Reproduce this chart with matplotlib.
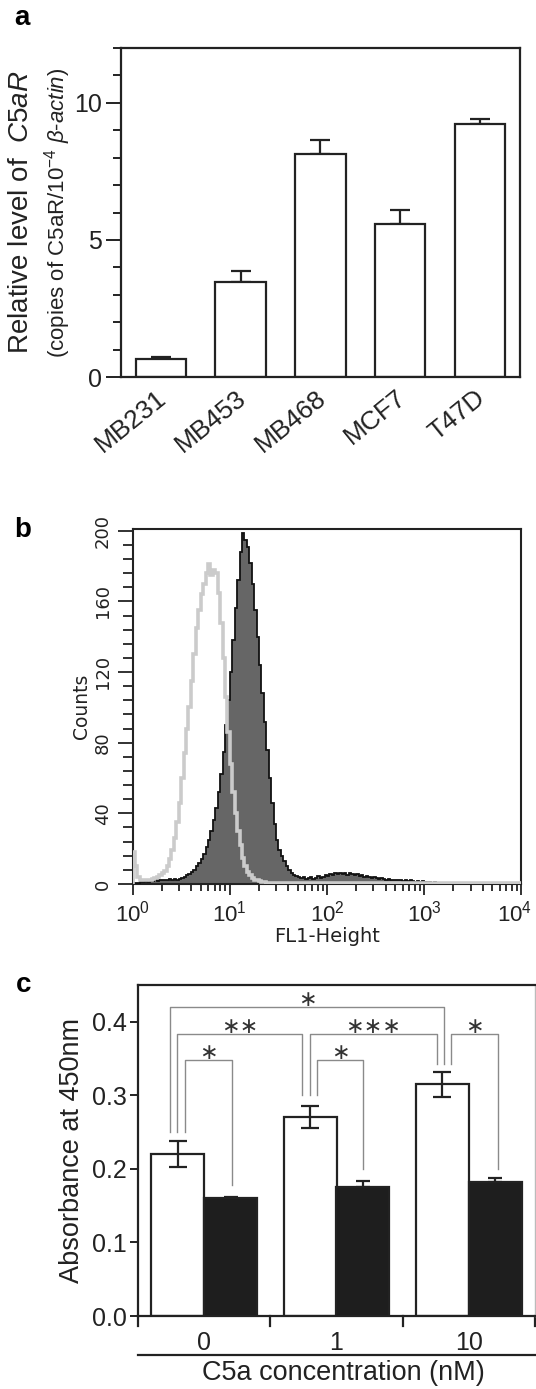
import numpy as np
import matplotlib
matplotlib.use("Agg")
import matplotlib.pyplot as plt
from matplotlib.ticker import MultipleLocator, FixedLocator, NullFormatter
import matplotlib.transforms as mtrans

plt.rcParams['font.family'] = ['Liberation Sans', 'DejaVu Sans']
plt.rcParams['mathtext.fontset'] = 'custom'
plt.rcParams['mathtext.rm'] = 'Liberation Sans'
plt.rcParams['mathtext.it'] = 'Liberation Sans:italic'
plt.rcParams['mathtext.bf'] = 'Liberation Sans:bold'

# ---------------- data ----------------
# panel a
cell_lines = ["MB231", "MB453", "MB468", "MCF7", "T47D"]
c5ar_level = [0.67, 3.46, 8.14, 5.59, 9.23]
c5ar_err = [0.08, 0.42, 0.51, 0.51, 0.19]

# panel b (flow cytometry histograms, 0.025-decade channels starting at 10^0;
# the last value of each list covers the remaining channels up to 10^4)
channel_width_decades = 0.025
stained_counts = [0.3, 0.5, 0.8, 1, 1, 1.5, 1.2, 1.8, 1.5, 2,
                  1.5, 2.5, 2, 2.5, 2, 3, 2.5, 3, 2.5, 3,
                  3.5, 4, 5, 5.5, 7, 8, 10, 12, 14, 17,
                  21, 25, 30, 36, 43, 52, 62, 75, 90, 104,
                  120, 138, 156, 172, 188, 199, 195, 191, 182, 170,
                  155, 140, 124, 108, 92, 76, 60, 46, 34, 25,
                  19, 16, 13, 10, 8, 6, 5, 4.5, 4, 3.5,
                  4, 3, 3.5, 4, 3, 3.5, 4.5, 3.5, 4, 5,
                  4.5, 5.5, 5, 6, 5.5, 6.5, 5.5, 6, 5, 6,
                  5.5, 5, 5.5, 4.5, 5, 4, 4.5, 4, 3.5, 4,
                  3.5, 3, 3.5, 3, 2.5, 3, 2.5, 2, 2.5, 2,
                  2.5, 1.5, 2, 1.5, 2, 1.5, 1, 1.5, 1, 1.5,
                  1, 0.8, 1.2, 0.8, 1, 0.6, 0.8, 0.5, 0.8, 0.5,
                  0.6, 0.4, 0.5, 0.3, 0.4, 0]
control_counts = [18, 10, 4, 2.5, 2, 2, 2.5, 2.5, 3, 3.5,
                  4, 5, 6, 7.5, 10, 14, 19, 26, 35, 46,
                  60, 74, 88, 100, 115, 130, 145, 155, 164, 170,
                  176, 181, 175, 178, 176, 165, 148, 128, 106, 86,
                  68, 52, 40, 30, 22, 15, 10, 7, 5, 3.5,
                  2.5, 2, 1.5, 1.2, 1, 0.8]
count_ticks = [0, 40, 80, 120, 160, 200]
fl1_decades = [0, 1, 2, 3, 4]

# panel c
c5a_conc = ["0", "1", "10"]
abs_open = [0.220, 0.270, 0.315]
abs_open_err = [0.018, 0.015, 0.017]
abs_filled = [0.160, 0.176, 0.182]
abs_filled_err = [0.002, 0.008, 0.006]
# significance brackets: (x_left, x_right, y_left_start, y_right_start, y_top, label)
sig_brackets = [
    (-0.145, 0.209, 0.250, 0.178, 0.348, "\u2217"),
    (-0.204, 0.739, 0.250, 0.300, 0.384, "\u2217\u2217"),
    (-0.259, 1.816, 0.250, 0.343, 0.420, "\u2217"),
    (0.855, 1.204, 0.300, 0.200, 0.348, "\u2217"),
    (0.796, 1.757, 0.300, 0.343, 0.384, "\u2217\u2217\u2217"),
    (1.868, 2.217, 0.343, 0.200, 0.384, "\u2217"),
]

W, H = 536, 1389
fig = plt.figure(figsize=(W / 100, H / 100), dpi=100)
INK = "#222222"


def ax_px(l, r, t, b):
    return fig.add_axes([l / W, 1 - b / H, (r - l) / W, (b - t) / H])


# ---------------- panel a ----------------
axa = ax_px(121, 519.7, 47.7, 377.3)
xa = np.arange(len(cell_lines))
axa.bar(xa, c5ar_level, width=0.635, color="white", edgecolor=INK, linewidth=1.6, zorder=2)
axa.errorbar(xa, c5ar_level, yerr=[np.zeros(len(c5ar_err)), c5ar_err], fmt="none",
             ecolor=INK, elinewidth=1.6, capsize=7.5, capthick=1.6, zorder=1)
axa.set_xlim(-0.5, 4.5)
axa.set_ylim(0, 12)
axa.yaxis.set_major_locator(FixedLocator([0, 5, 10]))
axa.yaxis.set_minor_locator(MultipleLocator(1))
axa.tick_params(axis="y", which="major", length=11, width=1.4, labelsize=18, pad=3,
                direction="out", colors=INK)
axa.tick_params(axis="y", which="minor", length=6, width=1.4, direction="out", colors=INK)
axa.tick_params(axis="x", length=0, labelsize=19, pad=6, colors=INK)
axa.set_xticks(xa)
axa.set_xticklabels(cell_lines, rotation=39, ha="right", rotation_mode="anchor")
for lab in axa.get_xticklabels():
    lab.set_transform(lab.get_transform() +
                      mtrans.ScaledTranslation(-5 / 100, 0, fig.dpi_scale_trans))
for s in axa.spines.values():
    s.set_linewidth(1.6)
    s.set_color(INK)
fig.text(21 / W, 1 - 212 / H, "Relative level of  $\\it{C5aR}$", rotation=90,
         fontsize=20, ha="center", va="center", color=INK)
fig.text(58 / W, 1 - 213 / H, "(copies of C5aR/10$^{-4}$ $\\it{\\beta}$-$\\it{actin}$)", rotation=90,
         fontsize=16, ha="center", va="center", color=INK)
fig.text(14 / W, 1 - 18 / H, "a", fontsize=20, fontweight="bold", ha="left", va="center")

# ---------------- panel b ----------------
axb = ax_px(132.6, 521.4, 529, 884)
st_log_edges = list(channel_width_decades * np.arange(len(stained_counts))) + [4.0]
ct_log_edges = list(channel_width_decades * np.arange(len(control_counts))) + [4.0]
st_edges = 10 ** np.array(st_log_edges)
ct_edges = 10 ** np.array(ct_log_edges)
axb.stairs(stained_counts, st_edges, fill=True, color="#666666", zorder=2)
axb.stairs(stained_counts, st_edges, color="#111111", linewidth=1.3, zorder=3)
axb.stairs(control_counts, ct_edges, color="#cbcbcb", linewidth=2.6, zorder=4)
axb.set_xscale("log")
axb.set_xlim(1, 1e4)
axb.set_ylim(0, 201)
axb.yaxis.set_major_locator(FixedLocator(count_ticks))
axb.yaxis.set_minor_locator(MultipleLocator(8))
axb.set_yticklabels([str(v) for v in count_ticks], rotation=90, va="center",
                    family="DejaVu Sans", fontsize=13, color=INK)
axb.xaxis.set_major_locator(FixedLocator([10 ** d for d in fl1_decades]))
axb.set_xticklabels(["$10^{%d}$" % d for d in fl1_decades])
minor = [m * 10 ** d for d in fl1_decades[:-1] for m in range(2, 10)]
axb.xaxis.set_minor_locator(FixedLocator(minor))
axb.xaxis.set_minor_formatter(NullFormatter())
axb.tick_params(axis="x", which="major", length=8, width=1.3, labelsize=16, pad=3, colors=INK)
axb.tick_params(axis="x", which="minor", length=5, width=1.3, colors=INK)
axb.tick_params(axis="y", which="major", length=11, width=1.3, pad=4, colors=INK)
axb.tick_params(axis="y", which="minor", length=7, width=1.3, colors=INK)
xlabs = axb.get_xticklabels()
for lab in xlabs:
    lab.set_family("DejaVu Sans")
xlabs[-1].set_transform(xlabs[-1].get_transform() +
                        mtrans.ScaledTranslation(-7 / 100, 0, fig.dpi_scale_trans))
for s in axb.spines.values():
    s.set_linewidth(1.5)
    s.set_color(INK)
axb.set_xlabel("FL1-Height", family="DejaVu Sans", fontsize=14, labelpad=1, color=INK)
axb.set_ylabel("Counts", family="DejaVu Sans", fontsize=13.5, labelpad=2, color=INK)
fig.text(14 / W, 1 - 530 / H, "b", fontsize=20, fontweight="bold", ha="left", va="center")

# ---------------- panel c ----------------
axc = ax_px(138, 535, 985, 1316)
xc = np.arange(len(c5a_conc))
bw = 0.4
axc.bar(xc - bw / 2, abs_open, width=bw, color="white", edgecolor=INK, linewidth=1.6, zorder=2)
axc.bar(xc + bw / 2, abs_filled, width=bw, color="#1e1e1e", edgecolor=INK, linewidth=1.6, zorder=2)
axc.errorbar(xc - bw / 2, abs_open, yerr=abs_open_err, fmt="none", ecolor=INK,
             elinewidth=1.6, capsize=6.4, capthick=1.6, zorder=3)
axc.errorbar(xc + bw / 2, abs_filled, yerr=[np.zeros(3), abs_filled_err], fmt="none",
             ecolor=INK, elinewidth=1.6, capsize=5.3, capthick=1.6, zorder=1)
px_per_unit = 331 / 0.45
for xl, xr, yl, yr, yt, lab in sig_brackets:
    axc.plot([xl, xl, xr, xr], [yl, yt, yt, yr], color="#8a8a8a", lw=1.0, zorder=1)
    axc.text((xl + xr) / 2, yt + 9 / px_per_unit, lab, ha="center", va="center_baseline",
             fontsize=16, family="DejaVu Sans", color="#333333")
axc.set_xlim(-0.5, 2.5)
axc.set_ylim(0, 0.45)
axc.yaxis.set_major_locator(FixedLocator([0, 0.1, 0.2, 0.3, 0.4]))
axc.set_yticklabels(["0.0", "0.1", "0.2", "0.3", "0.4"])
axc.tick_params(axis="y", length=6, width=1.4, labelsize=18, pad=2, colors=INK)
axc.set_xticks(xc)
axc.set_xticklabels(c5a_conc)
axc.tick_params(axis="x", length=0, labelsize=18, pad=11, colors=INK)
for s in axc.spines.values():
    s.set_linewidth(1.6)
    s.set_color(INK)
axc.spines["right"].set_color("#bbbbbb")
axc.spines["right"].set_linewidth(1.0)
# group separator ticks below axis
for xs in [-0.5, 0.5, 1.5, 2.5]:
    axc.plot([xs, xs], [0, -10 / px_per_unit], color=INK, lw=1.6, clip_on=False)
axc.plot([-0.5, 2.6], [-39 / px_per_unit, -39 / px_per_unit], color=INK, lw=1.6, clip_on=False)
axc.text(1.05, -44 / px_per_unit, "C5a concentration (nM)", ha="center", va="top",
         fontsize=19.5, color=INK)
axc.set_ylabel("Absorbance at 450nm", fontsize=19.5, labelpad=5, color=INK)
fig.text(16 / W, 1 - 985 / H, "c", fontsize=20, fontweight="bold", ha="left", va="center")

fig.savefig("out.png", dpi=100)
